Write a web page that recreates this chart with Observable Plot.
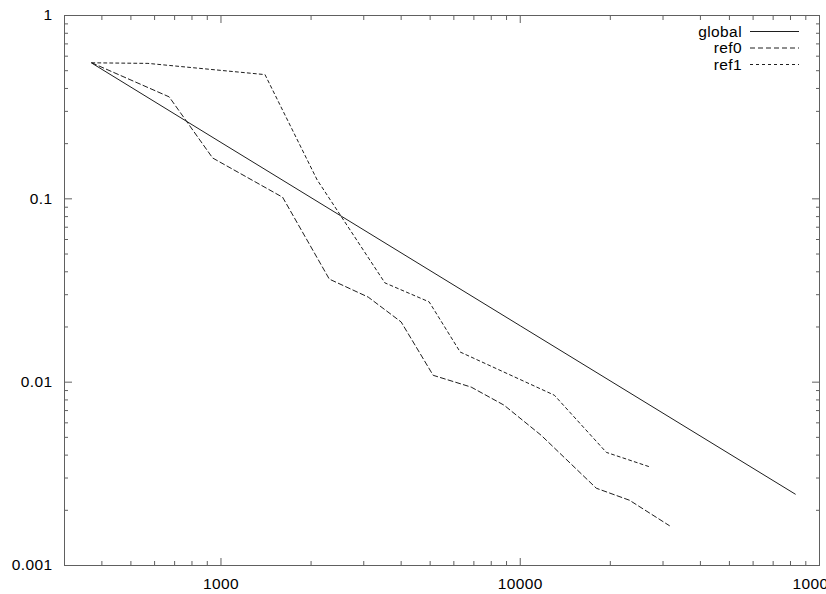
<!DOCTYPE html>
<html><head><meta charset="utf-8">
<script src="https://cdn.jsdelivr.net/npm/d3@7"></script>
<script src="https://cdn.jsdelivr.net/npm/@observablehq/plot@0.6"></script>
<style>
html,body{margin:0;padding:0;background:#fff;overflow:hidden;}
#wrap{position:relative;width:826px;height:594px;overflow:hidden;}
#legend{position:absolute;left:0;top:0;}
</style></head><body><div id="wrap"></div>
<script>
// ---- data ----
const seriesNames = ["global", "ref0", "ref1"];
const globalX = [370, 1000, 10000, 83000];
const globalY = [0.55, 0.203, 0.0203, 0.00245];
const ref0X = [370, 671, 938, 1607, 2301, 3105, 4000, 5117, 6855, 8830, 11750, 17950, 23170, 31500];
const ref0Y = [0.552, 0.360, 0.167, 0.102, 0.0365, 0.0291, 0.0213, 0.0109, 0.0094, 0.00749, 0.00513, 0.00264, 0.00227, 0.00165];
const ref1X = [370, 570, 1403, 2095, 3530, 4963, 6300, 13000, 19400, 27400];
const ref1Y = [0.552, 0.548, 0.476, 0.127, 0.0348, 0.0274, 0.0146, 0.00849, 0.00414, 0.00343];
const xTicks = [1000, 10000, 100000];
const xTickLabels = ["1000", "10000", "100000"];
const yTicks = [1, 0.1, 0.01, 0.001];
const yTickLabels = ["1", "0.1", "0.01", "0.001"];
const xDomain = [300, 100000];
const yDomain = [0.001, 1];

// minor tick positions (2..9 of each decade)
const xMinor = [];
for (const base of [100, 1000, 10000]) for (let m = 2; m <= 9; m++) { const v = base * m; if (v > xDomain[0] && v < xDomain[1]) xMinor.push(v); }
const yMinor = [];
for (const base of [0.001, 0.01, 0.1]) for (let m = 2; m <= 9; m++) yMinor.push(+(base * m).toPrecision(3));

const toRows = (xs, ys) => xs.map((x, i) => ({x, y: ys[i]}));
const styles = {
  global: {dash: null},
  ref0: {dash: "5,3"},
  ref1: {dash: "3,3"}
};
const dataBy = {global: toRows(globalX, globalY), ref0: toRows(ref0X, ref0Y), ref1: toRows(ref1X, ref1Y)};
const xLabelRows = xTicks.map((v, i) => ({v, label: xTickLabels[i]}));
const yLabelRows = yTicks.map((v, i) => ({v, label: yTickLabels[i]}));

const frameColor = "#606060";
const lineColor = "#1e1e1e";
const font = "'Liberation Sans', Arial, sans-serif";
const fontSize = "15.5px";

const tickMarks = (size, ticks) => [
  Plot.axisX(ticks, {anchor: "bottom", tickSize: size, dy: -size, fill: "none", stroke: frameColor, label: null}),
  Plot.axisX(ticks, {anchor: "top", tickSize: size, dy: size, fill: "none", stroke: frameColor, label: null}),
];
const tickMarksY = (size, ticks) => [
  Plot.axisY(ticks, {anchor: "left", tickSize: size, dx: size, fill: "none", stroke: frameColor, label: null}),
  Plot.axisY(ticks, {anchor: "right", tickSize: size, dx: -size, fill: "none", stroke: frameColor, label: null}),
];

const chart = Plot.plot({
  width: 826,
  height: 594,
  marginLeft: 64,
  marginRight: 7,
  marginTop: 15,
  marginBottom: 29,
  style: {fontFamily: font, fontSize: fontSize, color: "#000", background: "#fff", letterSpacing: "0.4px"},
  x: {type: "log", domain: xDomain},
  y: {type: "log", domain: yDomain},
  marks: [
    ...tickMarks(7, xTicks),
    ...tickMarks(4, xMinor),
    ...tickMarksY(8, yTicks),
    ...tickMarksY(4, yMinor),
    Plot.text(xLabelRows, {x: "v", text: "label", frameAnchor: "bottom", lineAnchor: "top", dy: 12, fill: "#000", fontSize: 15.5}),
    Plot.text(yLabelRows, {y: "v", text: "label", frameAnchor: "left", textAnchor: "end", dx: -12, fill: "#000", fontSize: 15.5}),
    Plot.frame({stroke: frameColor}),
    ...seriesNames.map(name => Plot.line(dataBy[name], {
      x: "x", y: "y", stroke: lineColor, strokeWidth: 1,
      strokeDasharray: styles[name].dash || undefined
    }))
  ]
});
document.getElementById("wrap").appendChild(chart);

// ---- legend (top right, inside frame) ----
const legend = d3.select("#wrap").append("svg").attr("id", "legend")
  .attr("width", 826).attr("height", 100);
const rowY = [31.5, 48, 64.5];
seriesNames.forEach((name, i) => {
  legend.append("text")
    .attr("x", 742).attr("y", rowY[i]).attr("dy", "0.34em").attr("text-anchor", "end")
    .style("font-family", font).style("font-size", fontSize).style("letter-spacing", "0.4px")
    .attr("fill", "#000")
    .text(name);
  legend.append("line")
    .attr("x1", 750).attr("x2", 799).attr("y1", rowY[i]).attr("y2", rowY[i])
    .attr("stroke", lineColor).attr("stroke-width", 1)
    .attr("stroke-dasharray", styles[name].dash);
});
</script>
</body></html>
